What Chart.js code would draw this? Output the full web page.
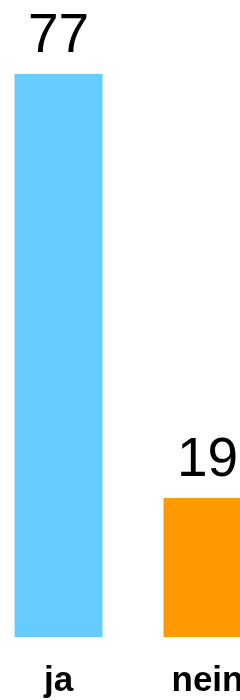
<!DOCTYPE html>
<html><head><meta charset="utf-8">
<script src="https://cdn.jsdelivr.net/npm/chart.js@4/dist/chart.umd.min.js"></script>
<style>
html,body{margin:0;padding:0;background:#fff;overflow:hidden;width:240px;height:700px;}
#wrap{position:absolute;left:-16.5px;top:0;width:298px;height:700px;}
</style></head>
<body><div id="wrap"><canvas id="c"></canvas></div>
<script>
const categories = ["ja", "nein"];
const values = [77, 19];
const colors = ["#66CCFF", "#FF9900"];

const valueLabels = {
  id: 'valueLabels',
  afterDatasetsDraw(chart) {
    const ctx = chart.ctx;
    const meta = chart.getDatasetMeta(0);
    ctx.save();
    ctx.font = '55px "Liberation Sans", Arial, sans-serif';
    ctx.fillStyle = '#000';
    ctx.textAlign = 'center';
    ctx.textBaseline = 'alphabetic';
    meta.data.forEach((bar, i) => {
      ctx.fillText(String(values[i]), bar.x, bar.y - 22);
    });
    ctx.restore();
  }
};

new Chart(document.getElementById('c'), {
  type: 'bar',
  data: {
    labels: categories,
    datasets: [{ data: values, backgroundColor: colors, borderWidth: 0,
      barPercentage: 0.59, categoryPercentage: 1.0 }]
  },
  options: {
    responsive: true, maintainAspectRatio: false, animation: false,
    layout: { padding: { top: 74, left: 0, right: 0, bottom: -25 } },
    plugins: { legend: { display: false }, tooltip: { enabled: false } },
    scales: {
      y: { display: false, min: 0, max: 77 },
      x: { grid: { display: false, drawTicks: false }, border: { display: false },
        ticks: { color: '#000', padding: 24, font: { family: '"Liberation Sans", Arial, sans-serif', size: 35, weight: 'bold', lineHeight: 40/35 } } }
    }
  },
  plugins: [valueLabels]
});
</script></body></html>
